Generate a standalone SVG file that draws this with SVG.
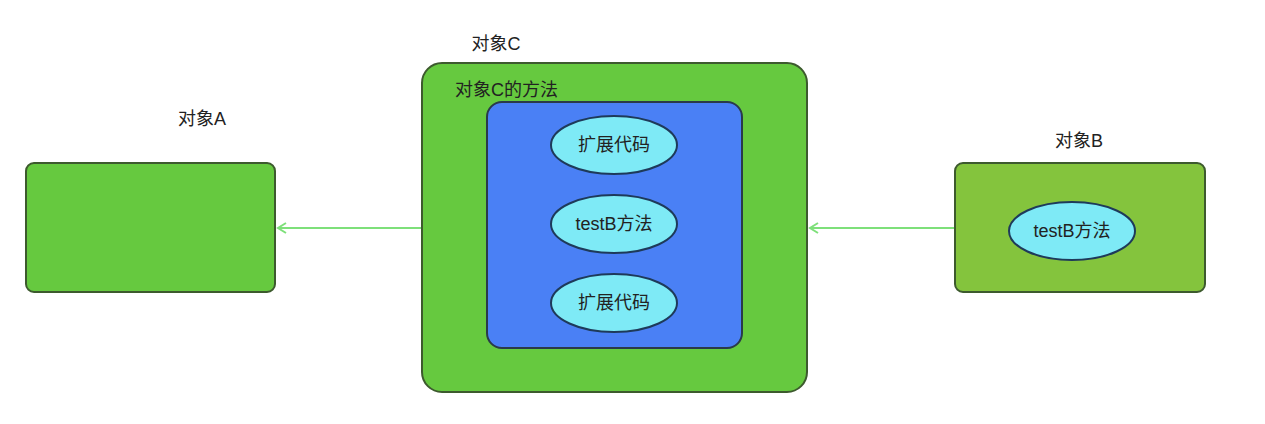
<svg xmlns="http://www.w3.org/2000/svg" width="1265" height="424" viewBox="0 0 1265 424">
<style>
text{font-family:"Liberation Sans","Noto Sans CJK SC",sans-serif;font-size:18px;fill:#222}
.box{fill:#66c93f;stroke:#3d5a2e;stroke-width:2}
.ell{fill:#7eeaf6;stroke:#1e3a5a;stroke-width:2}
.conn{stroke:#7ee07a;stroke-width:2;fill:none}
</style>
<defs>
<marker id="ah" markerWidth="12" markerHeight="12" refX="10" refY="6" orient="auto" markerUnits="userSpaceOnUse">
<path d="M2,1 L10,6 L2,11" fill="none" stroke="#7ee07a" stroke-width="2"/>
</marker>
</defs>
<rect width="1265" height="424" fill="#fff"/>
<g id="connectors">
<line class="conn" x1="421" y1="228" x2="278" y2="228" marker-end="url(#ah)"/>
<line class="conn" x1="954" y1="228" x2="810" y2="228" marker-end="url(#ah)"/>
</g>
<g id="objA">
<text x="202" y="125" text-anchor="middle">对象A</text>
<rect class="box" x="26" y="163" width="249" height="129" rx="8"/>
</g>
<g id="objC">
<text x="496" y="50" text-anchor="middle">对象C</text>
<rect class="box" x="422" y="63" width="385" height="329" rx="20"/>
<text x="455" y="96">对象C的方法</text>
</g>
<g id="methodC">
<rect x="487" y="102" width="255" height="246" rx="15" fill="#4a80f5" stroke="#2a3a4a" stroke-width="2"/>
</g>
<g id="ext1">
<ellipse class="ell" cx="614" cy="145" rx="63" ry="29"/>
<text x="614" y="151" text-anchor="middle">扩展代码</text>
</g>
<g id="testBC">
<ellipse class="ell" cx="614" cy="224" rx="63" ry="29"/>
<text x="614" y="230" text-anchor="middle">testB方法</text>
</g>
<g id="ext2">
<ellipse class="ell" cx="614" cy="303" rx="63" ry="29"/>
<text x="614" y="309" text-anchor="middle">扩展代码</text>
</g>
<g id="objB">
<text x="1079" y="147" text-anchor="middle">对象B</text>
<rect x="955" y="163" width="250" height="129" rx="8" fill="#84c43d" stroke="#3d5a2e" stroke-width="2"/>
<ellipse class="ell" cx="1072" cy="231" rx="63" ry="29"/>
<text x="1072" y="237" text-anchor="middle">testB方法</text>
</g>
</svg>
